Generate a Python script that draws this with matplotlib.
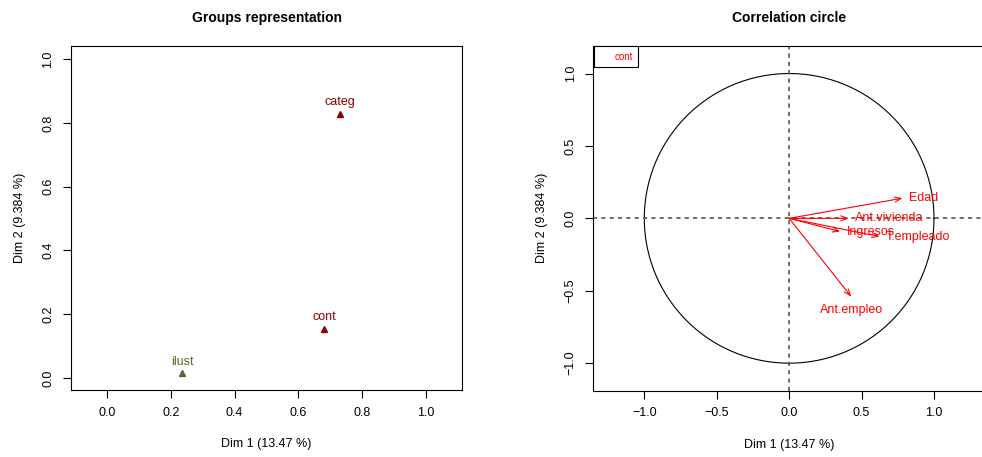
import matplotlib
matplotlib.use("Agg")
import matplotlib.pyplot as plt
from matplotlib.lines import Line2D
import numpy as np

plt.rcParams['font.family'] = ['Liberation Sans', 'DejaVu Sans']

# Groups representation data
groups = ["categ", "cont", "ilust"]
group_x = [0.73, 0.68, 0.235]
group_y = [0.83, 0.155, 0.015]
group_colors = ["#8B0000", "#8B0000", "#556B2F"]

# Correlation circle data
variables = ["Edad", "Ant.vivienda", "Ingresos", "T.empleado", "Ant.empleo"]
var_x = [0.782, 0.41, 0.352, 0.624, 0.428]
var_y = [0.139, 0.0, -0.091, -0.126, -0.54]
var_label_pos = ["right", "right", "right", "right", "below"]

dim1_label = "Dim 1 (13.47 %)"
dim2_label = "Dim 2 (9.384 %)"

W, H = 982, 457
fig = plt.figure(figsize=(W / 100, H / 100), dpi=100)

def px_axes(l, t, r, b):
    return fig.add_axes([l / W, 1 - b / H, (r - l) / W, (b - t) / H])

fs = 9

# ---------- Left panel ----------
ax1 = px_axes(71, 46, 462, 390)
ax1.set_xlim(-0.113, 1.113)
ax1.set_ylim(-0.038, 1.042)
for gx, gy, name, c in zip(group_x, group_y, groups, group_colors):
    ax1.plot(gx, gy, marker='^', color=c, markersize=5, linestyle='none')
    ax1.annotate(name, (gx, gy), xytext=(0, 4), textcoords='offset points',
                 ha='center', va='bottom', color=c, fontsize=fs)
ax1.set_xticks([0.0, 0.2, 0.4, 0.6, 0.8, 1.0])
ax1.set_yticks([0.0, 0.2, 0.4, 0.6, 0.8, 1.0])
ax1.set_xticklabels(["0.0", "0.2", "0.4", "0.6", "0.8", "1.0"])
ax1.set_yticklabels(["0.0", "0.2", "0.4", "0.6", "0.8", "1.0"], rotation=90, va='center')
ax1.set_title("Groups representation", fontsize=10, fontweight='bold', pad=17)
ax1.set_xlabel(dim1_label, fontsize=fs, labelpad=14)
ax1.set_ylabel(dim2_label, fontsize=fs, labelpad=12)

# ---------- Right panel ----------
ax2 = px_axes(593.3, 46, 985, 390.7)
ax2.set_xlim(-1.352, 1.352)
ax2.set_ylim(-1.19, 1.19)
theta = np.linspace(0, 2 * np.pi, 400)
ax2.plot(np.cos(theta), np.sin(theta), color='black', lw=0.8)
ax2.axhline(0, color='#555555', lw=1.2, linestyle=(0, (2.5, 2.5)))
ax2.axvline(0, color='#555555', lw=1.2, linestyle=(0, (2.5, 2.5)))
for vx, vy, name, pos in zip(var_x, var_y, variables, var_label_pos):
    ax2.annotate('', xy=(vx, vy), xytext=(0, 0),
                 arrowprops=dict(arrowstyle='->,head_length=0.45,head_width=0.18',
                                 color='red', lw=0.8, shrinkA=0, shrinkB=0))
    if pos == "right":
        ax2.annotate(name, (vx, vy), xytext=(4.5, 0), textcoords='offset points',
                     ha='left', va='center', color='red', fontsize=fs)
    else:
        ax2.annotate(name, (vx, vy), xytext=(0, -5), textcoords='offset points',
                     ha='center', va='top', color='red', fontsize=fs)
ax2.set_xticks([-1.0, -0.5, 0.0, 0.5, 1.0])
ax2.set_yticks([-1.0, -0.5, 0.0, 0.5, 1.0])
ax2.set_xticklabels(["\u22121.0", "\u22120.5", "0.0", "0.5", "1.0"])
ax2.set_yticklabels(["\u22121.0", "\u22120.5", "0.0", "0.5", "1.0"], rotation=90, va='center')
ax2.set_title("Correlation circle", fontsize=10, fontweight='bold', pad=17)
ax2.set_xlabel(dim1_label, fontsize=fs, labelpad=14)
ax2.set_ylabel(dim2_label, fontsize=fs, labelpad=12)
leg = ax2.legend(handles=[Line2D([], [], color='none')], labels=["cont"],
                 loc='upper left', fancybox=False, edgecolor='black',
                 fontsize=7, labelcolor='red', borderaxespad=0.05,
                 handlelength=1.0, handletextpad=0.6, borderpad=0.55, framealpha=1)
leg.get_frame().set_linewidth(0.8)

for ax in (ax1, ax2):
    ax.tick_params(direction='out', length=6, width=0.8, labelsize=fs, pad=6)
    for s in ax.spines.values():
        s.set_linewidth(0.8)

fig.savefig("out.png", dpi=100)
